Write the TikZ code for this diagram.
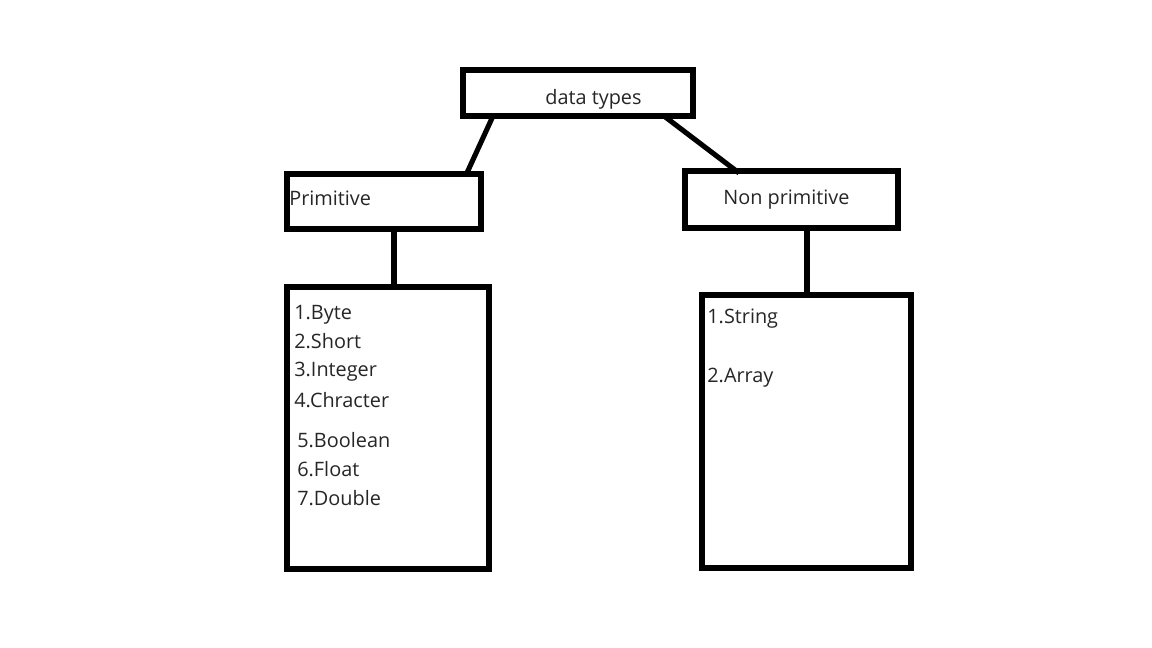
\documentclass[tikz,border=0pt]{standalone}
\usepackage{fontspec}
\setmainfont{Open Sans}
\begin{document}
\begin{tikzpicture}[x=0.02cm,y=-0.02cm]
    \tikzset{
      typebox/.style 2 args={draw=black, line width=2.9pt, rectangle,
        anchor=north west, inner sep=0pt, outer sep=0pt,
        minimum width=#1*0.02cm, minimum height=#2*0.02cm},
      link/.style={line width=2.9pt},
      label text/.style={anchor=base west, inner sep=0pt, text=black!85,
        font=\fontsize{11.3}{13}\selectfont}
    }
    \useasboundingbox (0,0) rectangle (1152,648);
    \fill[white] (0,0) rectangle (1152,648);

    % boxes
    \node (dt) [typebox={230}{46}] at (463,70) {};
    \node (prim) [typebox={194}{55}] at (287,174) {};
    \node (nonprim) [typebox={213}{57}] at (685,171) {};
    \node (plist) [typebox={202}{282}] at (287,287) {};
    \node (nlist) [typebox={209}{273}] at (702,295) {};

    % titles
    \node (dttext) [label text] at (545,105) {data types};
    \node (primtext) [label text] at (289,206) {Primitive};
    \node (nonprimtext) [label text] at (723,205) {Non primitive};

    % lists
    \foreach \item/\x/\y in {1.Byte/294/319, 2.Short/294/348, 3.Integer/294/377,
        4.Chracter/294/407, 5.Boolean/297/447, 6.Float/297/476, 7.Double/297/505}
      \node [label text] at (\x,\y) {\item};
    \foreach \item/\y in {1.String/323, 2.Array/382}
      \node [label text] at (707,\y) {\item};

    % links
    \draw[link] (dt.south west) ++(30,0) -- ([xshift=179*0.02cm,yshift=-0.02cm]prim.north west);
    \draw[link] (dt.south east) ++(-29,0) -- ([xshift=54*0.02cm,yshift=-2*0.02cm]nonprim.north west);
    \draw[link] (prim.south) ++(10,0) coordinate (pa) -- (pa |- plist.north);
    \draw[link] (nonprim.south) ++(15.5,0) coordinate (na) -- (na |- nlist.north);
\end{tikzpicture}
\end{document}
